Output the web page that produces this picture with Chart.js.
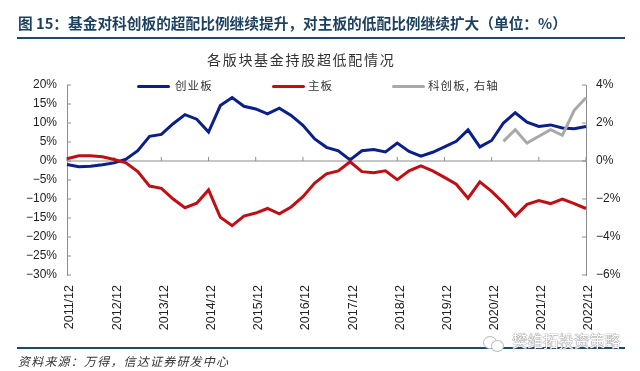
<!DOCTYPE html>
<html lang="zh">
<head>
<meta charset="utf-8">
<title>各版块基金持股超低配情况</title>
<script src="https://cdn.jsdelivr.net/npm/chart.js@4/dist/chart.umd.js"></script>
<style>
    html, body { margin: 0; padding: 0; background: #fff; }
    #page { position: relative; width: 640px; height: 371px; overflow: hidden; font-family: "Noto Sans CJK SC", sans-serif; }
    #page canvas { position: absolute; left: 0; top: 0; }
    .txt { position: absolute; white-space: nowrap; line-height: 1; }
    .rule { position: absolute; left: 17px; width: 608px; height: 2px; background: #1c4a68; }
    #head { left: 18px; top: 16px; font-size: 14.7px; font-weight: 700; color: #1c3f5e; }
    #chartTitle { left: 207px; top: 52px; font-size: 14px; letter-spacing: 1.7px; color: #333; }
    #source { left: 18px; top: 355px; font-size: 12px; font-style: italic; color: #333; letter-spacing: 1.2px; }
    #mark { left: 512px; top: 333px; font-size: 15.5px; color: #fff; text-shadow: 0 0 1px #666, 0 0 1px #666; }
    .icon { position: absolute; border-radius: 50%; background: #fff; border: 1px solid #bbb; }
    .key { position: absolute; height: 3px; width: 33px; border-radius: 2px; top: 84.5px; }
    .keyText { top: 80px; font-size: 11.5px; letter-spacing: 1.1px; color: #333; }
</style>
</head>
<body>
<div id="page">
    <canvas id="chart" width="640" height="371"></canvas>
    <div class="txt" id="head">图 15：基金对科创板的超配比例继续提升，对主板的低配比例继续扩大（单位：%）</div>
    <div class="rule" style="top:37px"></div>
    <div class="txt" id="chartTitle">各版块基金持股超低配情况</div>
    <div id="legend"></div>
    <div class="rule" style="top:347px"></div>
    <div class="txt" id="source">资料来源：万得，信达证券研发中心</div>
    <div class="icon" style="left:483px;top:336px;width:12px;height:11px"></div>
    <div class="icon" style="left:491px;top:340px;width:11px;height:10px"></div>
    <div class="txt" id="mark">樊维拓投资策略</div>
</div>
<script>
// 季度序列，2011/12 - 2022/12
const categories = [
    '2011/12', '2012/03', '2012/06', '2012/09', '2012/12',
    '2013/03', '2013/06', '2013/09', '2013/12',
    '2014/03', '2014/06', '2014/09', '2014/12',
    '2015/03', '2015/06', '2015/09', '2015/12',
    '2016/03', '2016/06', '2016/09', '2016/12',
    '2017/03', '2017/06', '2017/09', '2017/12',
    '2018/03', '2018/06', '2018/09', '2018/12',
    '2019/03', '2019/06', '2019/09', '2019/12',
    '2020/03', '2020/06', '2020/09', '2020/12',
    '2021/03', '2021/06', '2021/09', '2021/12',
    '2022/03', '2022/06', '2022/09', '2022/12'
];

const chuangye = [
    -0.9, -1.5, -1.4, -1.0, -0.5, 0.5, 2.7, 6.5, 7.0,
    9.8, 12.2, 11.0, 7.6, 14.6, 16.7, 14.4, 13.7,
    12.4, 13.9, 12.0, 9.4, 5.8, 3.6, 2.7, 0.3,
    2.7, 3.0, 2.4, 4.7, 2.5, 1.3, 2.3, 3.7,
    5.2, 8.2, 3.7, 5.4, 10.0, 12.7, 10.2, 9.1,
    9.5, 8.7, 8.5, 9.1
];

const zhuban = [
    0.6, 1.4, 1.4, 1.1, 0.4, -0.5, -2.8, -6.6, -7.2,
    -10.0, -12.3, -11.1, -7.6, -14.8, -17.0, -14.5, -13.7,
    -12.5, -13.9, -12.1, -9.4, -5.8, -3.4, -2.6, -0.2,
    -2.8, -3.1, -2.6, -4.9, -2.6, -1.3, -2.6, -4.3,
    -6.1, -9.8, -5.5, -8.0, -11.0, -14.5, -11.4, -10.4,
    -11.2, -10.0, -11.2, -12.5
];

// 科创板 2021/03 起才有数据
const kechuang = [
    null, null, null, null, null, null, null, null, null,
    null, null, null, null, null, null, null, null,
    null, null, null, null, null, null, null, null,
    null, null, null, null, null, null, null, null,
    null, null, null, null, 1.03, 1.65, 0.94, 1.3,
    1.65, 1.35, 2.67, 3.33
];

const leftTicks = [20, 15, 10, 5, 0, -5, -10, -15, -20, -25, -30];
const rightTicks = [4, 2, 0, -2, -4, -6];

const seriesNames = ['创业板', '主板', '科创板, 右轴'];
const seriesColors = ['#0b1f8a', '#bf0f14', '#a9a9a9'];

const axisColor = '#8c8c8c';
const xLabelFont = { family: "'Liberation Sans', Arial, sans-serif", size: 12.5 };
const yLabelFont = { family: "'Liberation Sans Narrow', 'Liberation Sans', sans-serif", size: 12 };

const percentLabel = v => String(v).replace('-', '\u2212') + '%';

// 图例直接按原图位置摆放
const legendBox = document.getElementById('legend');
[[137, 175], [272, 308], [392, 428]].forEach((pos, i) => {
    const line = document.createElement('div');
    line.className = 'key';
    line.style.left = pos[0] + 'px';
    line.style.background = seriesColors[i];
    legendBox.appendChild(line);
    const text = document.createElement('div');
    text.className = 'txt keyText';
    text.style.left = pos[1] + 'px';
    text.textContent = seriesNames[i];
    legendBox.appendChild(text);
});

// 0 轴横线和朝内的刻度线
const axisMarks = {
    id: 'axisMarks',
    beforeDatasetsDraw(chart) {
        const { ctx, scales } = chart;
        const { x, y, y1 } = scales;
        const zero = y.getPixelForValue(0);
        ctx.save();
        ctx.strokeStyle = axisColor;
        ctx.lineWidth = 1;
        ctx.beginPath();
        ctx.moveTo(x.left, zero);
        ctx.lineTo(x.right, zero);
        categories.forEach((c, i) => {
            if (c.endsWith('/12')) {
                const px = x.getPixelForValue(i);
                ctx.moveTo(px, zero);
                ctx.lineTo(px, zero - 4);
            }
        });
        leftTicks.forEach(v => {
            const py = y.getPixelForValue(v);
            ctx.moveTo(x.left, py);
            ctx.lineTo(x.left + 4, py);
        });
        rightTicks.forEach(v => {
            const py = y1.getPixelForValue(v);
            ctx.moveTo(x.right, py);
            ctx.lineTo(x.right - 4, py);
        });
        ctx.stroke();
        ctx.restore();
    }
};

new Chart(document.getElementById('chart'), {
    type: 'line',
    data: {
        labels: categories,
        datasets: [
            { label: seriesNames[0], data: chuangye, borderColor: seriesColors[0], yAxisID: 'y', order: 3 },
            { label: seriesNames[1], data: zhuban, borderColor: seriesColors[1], yAxisID: 'y', order: 2 },
            { label: seriesNames[2], data: kechuang, borderColor: seriesColors[2], yAxisID: 'y1', order: 1 }
        ]
    },
    options: {
        responsive: false,
        animation: false,
        layout: { padding: { top: 85 } },
        elements: {
            point: { radius: 0 },
            line: { borderWidth: 3, tension: 0, borderJoinStyle: 'miter' }
        },
        plugins: {
            legend: { display: false },
            title: { display: false },
            tooltip: { enabled: false }
        },
        scales: {
            x: {
                offset: false,
                grid: { display: false, drawTicks: false },
                border: { display: false },
                afterFit(scale) { scale.height = 96; },
                ticks: {
                    autoSkip: false,
                    minRotation: 90,
                    maxRotation: 90,
                    padding: 10,
                    labelOffset: 3,
                    font: xLabelFont,
                    color: '#222',
                    callback(value) {
                        const label = categories[value];
                        return label.endsWith('/12') ? label : '';
                    }
                }
            },
            y: {
                position: 'left',
                min: -30,
                max: 20,
                afterFit(scale) { scale.width = 67; },
                afterBuildTicks(scale) { scale.ticks = leftTicks.map(v => ({ value: v })); },
                grid: { display: false, drawTicks: false },
                border: { display: true, color: axisColor },
                ticks: { padding: 10, font: yLabelFont, color: '#222', callback: percentLabel }
            },
            y1: {
                position: 'right',
                min: -6,
                max: 4,
                afterFit(scale) { scale.width = 54; },
                afterBuildTicks(scale) { scale.ticks = rightTicks.map(v => ({ value: v })); },
                grid: { display: false, drawTicks: false },
                border: { display: true, color: axisColor },
                ticks: { padding: 10, font: yLabelFont, color: '#222', callback: percentLabel }
            }
        }
    },
    plugins: [axisMarks]
});
</script>
</body>
</html>
